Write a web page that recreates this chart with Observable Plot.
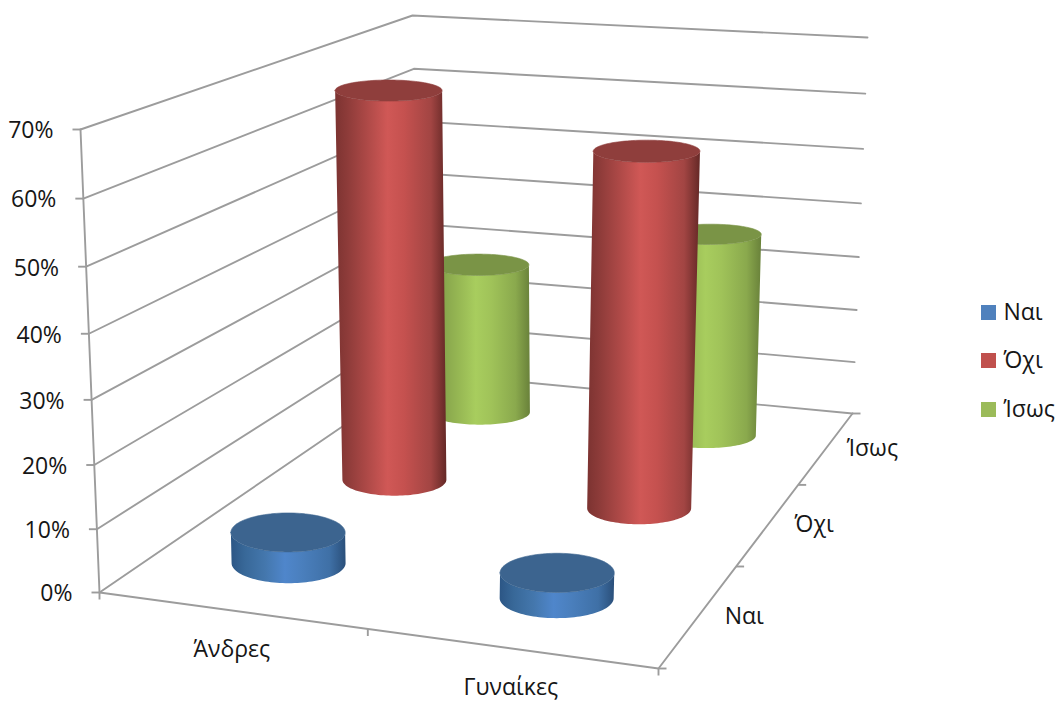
<!DOCTYPE html>
<html>
<head>
<meta charset="utf-8">
<script src="https://cdn.jsdelivr.net/npm/d3@7"></script>
<script src="https://cdn.jsdelivr.net/npm/@observablehq/plot@0.6"></script>
<style>
  html, body { margin: 0; padding: 0; background: #fff; }
  svg { display: block; }
</style>
</head>
<body>
<script>
// Survey answers, in percent
const categories = ["Άνδρες", "Γυναίκες"];
const seriesNames = ["Ναι", "Όχι", "Ίσως"];
const naiValues = [5, 4];
const ochiValues = [66.3, 59.5];
const isosValues = [28, 37];
const seriesValues = [naiValues, ochiValues, isosValues];
const percentTicks = [0, 10, 20, 30, 40, 50, 60, 70];

// Look of each series
const legendColors = ["#4f81bd", "#c0504d", "#9bbb59"];
const capColors = ["#3c648f", "#8f3e3c", "#7a9446"];
const gradientStops = [
  ["#2c5685", "#386898", "#4477ad", "#4f86cb", "#4a7fbd", "#3f70a6", "#2a4f7a"],
  ["#7c3331", "#8f3c3a", "#b04a48", "#d05856", "#c5514f", "#a24543", "#642826"],
  ["#748f40", "#83a04a", "#96b753", "#a8cd5e", "#a0c359", "#8aa94d", "#69813a"]
];
const stopOffsets = [0, 0.12, 0.3, 0.47, 0.62, 0.86, 1];

// Box geometry of the three-dimensional chart, in drawing units
const floorCorners = { fl: [99, 592], fr: [658, 668], bl: [421, 372], br: [852, 413] };
const roofCorners = { fl: [80, 129], fr: [676, 178], bl: [412, 15], br: [867, 37] };
const maxPercent = 70;
const perspective = 0.05;
const categoryCentres = [0.251, 0.75];
const categoryEdges = [0, 0.48, 1];
const depthCentres = [0.17, 0.535, 0.83];
const depthEdges = [0, 0.4, 0.72, 1];
const depthLabelPositions = [0.2, 0.56, 0.86];
const radiusX = [57, 52, 50];
const radiusY = [20, 16, 12.5];
const baseLift = 9;

const mix = (a, b, t) => a + (b - a) * t;
const cornerMix = (c, u, v, i) =>
  mix(mix(c.fl[i], c.fr[i], u), mix(c.bl[i], c.br[i], u), v);
// Higher levels sit slightly closer together on screen
const heightFraction = (h) => {
  const r = h / maxPercent;
  return (r * (1 - perspective)) / (1 - perspective * r);
};

// Maps (across, depth, percent) to drawing coordinates
function project(u, v, h) {
  const t = heightFraction(h);
  return [
    mix(cornerMix(floorCorners, u, v, 0), cornerMix(roofCorners, u, v, 0), t),
    mix(cornerMix(floorCorners, u, v, 1), cornerMix(roofCorners, u, v, 1), t)
  ];
}

// Half-ellipse rows for one disc of a cylinder
function disc(u, s, h) {
  const [cx, cy0] = project(u, depthCentres[s], h);
  const cy = cy0 - baseLift;
  const t = h / maxPercent;
  const rx = radiusX[s] * (1 + 0.03 * t);
  const ry = radiusY[s] * (1 - 0.36 * t);
  return d3.range(0, 61).map((i) => {
    const a = (Math.PI * i) / 60;
    const dx = -rx * Math.cos(a);
    const dy = ry * Math.sin(a);
    return { x: cx + dx, front: cy + dy, back: cy - dy };
  });
}

function cylinderMarks(c, s) {
  const value = seriesValues[s][c];
  const u = categoryCentres[c];
  const base = disc(u, s, 0);
  const top = disc(u, s, value);
  const side = top.map((d, i) => ({
    x1: d.x, y1: d.front, x2: base[i].x, y2: base[i].front
  }));
  return [
    Plot.area(side, {
      x1: "x1", y1: "y1", x2: "x2", y2: "y2",
      fill: `url(#side-${s})`
    }),
    Plot.area(top, {
      x1: "x", y1: "back", x2: "x", y2: "front",
      fill: capColors[s],
      stroke: capColors[s],
      strokeWidth: 0.6
    })
  ];
}

// Horizontal shading that gives the cylinders their round look
const gradientDefs = () => {
  const defs = d3.create("svg:defs");
  gradientStops.forEach((stops, s) => {
    const g = defs.append("linearGradient")
      .attr("id", `side-${s}`)
      .attr("x1", 0).attr("x2", 1).attr("y1", 0).attr("y2", 0);
    stops.forEach((color, i) => {
      g.append("stop").attr("offset", stopOffsets[i]).attr("stop-color", color);
    });
  });
  return defs.node();
};

// Gridlines run along the left wall, then along the back wall
const gridRows = percentTicks.flatMap((h) =>
  [[0, 0], [0, 1], [1, 1]].map(([u, v]) => {
    const [x, y] = project(u, v, h);
    return { h, x, y };
  })
);
const edge = (list) => list.map(([u, v, h]) => {
  const [x, y] = project(u, v, h);
  return { x, y };
});

const leftTicks = percentTicks.map((h) => {
  const [x, y] = project(0, 0, h);
  return { x, y, label: `${h}%` };
});
const frontTicks = categoryEdges.map((u) => {
  const [x, y] = project(u, 0, 0);
  return { x, y };
});
const sideTicks = depthEdges.map((v) => {
  const [x, y] = project(1, v, 0);
  return { x, y };
});
const categoryLabels = categories.map((label, c) => {
  const [x, y] = project(categoryCentres[c], 0, 0);
  return { x, y, label };
});
const depthLabels = seriesNames.map((label, s) => {
  const [x, y] = project(1, depthLabelPositions[s], 0);
  return { x, y, label };
});

// Legend rows on the right of the chart
const legendTop = [305, 353, 402];
const legendRows = seriesNames.map((label, s) => ({
  label, top: legendTop[s], color: legendColors[s]
}));
const swatchLeft = 981;
const swatchSize = 15;

const gridColor = "#9c9c9c";
const gridWidth = 1.9;
const fontFamily = "'Open Sans', sans-serif";
const fontSize = 23;
const textColor = "#161616";

const cylinderOrder = [2, 1, 0].flatMap((s) => [0, 1].map((c) => [c, s]));

const chart = Plot.plot({
  width: 1057,
  height: 702,
  margin: 0,
  style: { background: "#fff", fontFamily },
  x: { domain: [0, 1057], range: [0, 1057], axis: null },
  y: { domain: [0, 702], range: [0, 702], axis: null },
  marks: [
    gradientDefs,
    Plot.line(gridRows, { x: "x", y: "y", z: "h", stroke: gridColor, strokeWidth: gridWidth }),
    Plot.line(edge([[0, 0, 0], [0, 0, maxPercent]]), { x: "x", y: "y", stroke: gridColor, strokeWidth: gridWidth }),
    Plot.line(edge([[0, 0, 0], [1, 0, 0], [1, 1, 0]]), { x: "x", y: "y", stroke: gridColor, strokeWidth: gridWidth }),
    Plot.link(leftTicks, { x1: "x", y1: "y", x2: (d) => d.x - 8, y2: "y", stroke: gridColor, strokeWidth: gridWidth }),
    Plot.link(frontTicks, { x1: "x", y1: "y", x2: "x", y2: (d) => d.y + 7, stroke: gridColor, strokeWidth: gridWidth }),
    Plot.link(sideTicks, { x1: "x", y1: "y", x2: (d) => d.x + 8, y2: "y", stroke: gridColor, strokeWidth: gridWidth }),
    ...cylinderOrder.flatMap(([c, s]) => cylinderMarks(c, s)),
    Plot.text(leftTicks, { x: "x", y: "y", text: "label", textAnchor: "end", dx: -27, dy: 1.5, fontSize, fill: textColor }),
    Plot.text(categoryLabels, { x: "x", y: "y", text: "label", dx: -8, dy: 38, fontSize, fill: textColor }),
    Plot.text(depthLabels, { x: "x", y: "y", text: "label", dx: 47, dy: -1, fontSize, fill: textColor }),
    Plot.rect(legendRows, {
      x1: () => swatchLeft, x2: () => swatchLeft + swatchSize,
      y1: "top", y2: (d) => d.top + swatchSize,
      fill: (d) => d.color
    }),
    Plot.text(legendRows, {
      x: () => swatchLeft + swatchSize + 7, y: (d) => d.top + swatchSize / 2,
      text: "label", textAnchor: "start", fontSize, fill: textColor
    })
  ]
});
document.body.appendChild(chart);
</script>
</body>
</html>
